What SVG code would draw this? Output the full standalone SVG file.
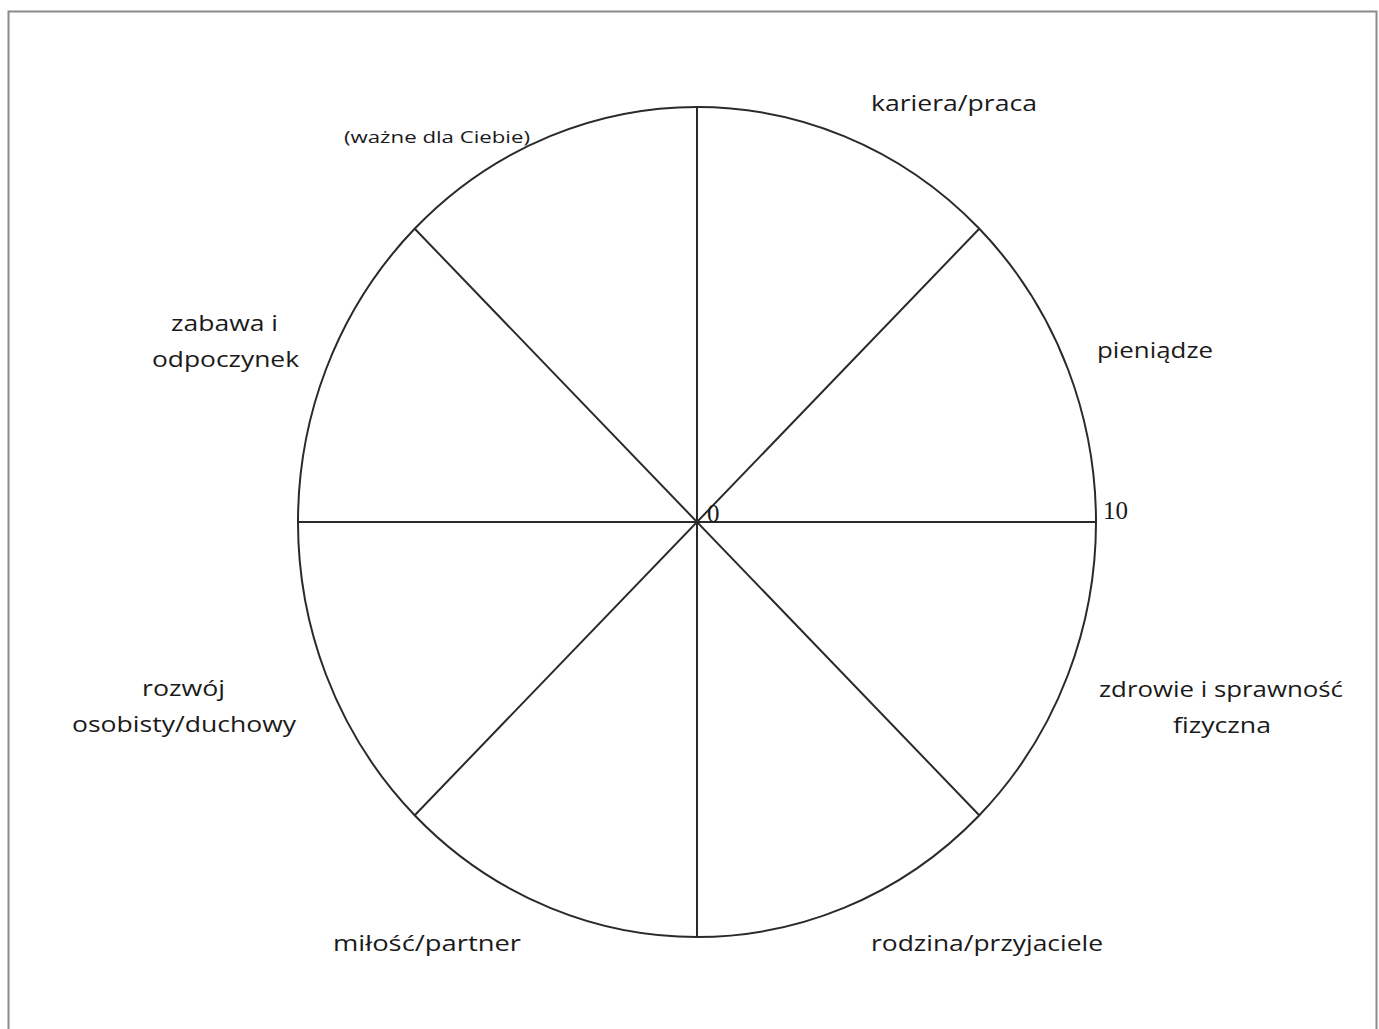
<svg xmlns="http://www.w3.org/2000/svg" width="1379" height="1029" viewBox="0 0 1379 1029">
<style>
.lbl{font-family:"Open Sans","Liberation Sans",sans-serif;font-size:22px;fill:#1a1a1a}
.small{font-family:"Open Sans","Liberation Sans",sans-serif;font-size:16px;fill:#1a1a1a}
.num{font-family:"Liberation Serif",serif;font-size:25px;fill:#1a1a1a}
.ln{stroke:#2a2a2a;stroke-width:2;fill:none}
</style>
<rect x="0" y="0" width="1379" height="1029" fill="#fff"/>
<rect x="8.5" y="11.5" width="1368" height="1030" fill="none" stroke="#8a8a8a" stroke-width="2"/>
<g id="wheel">
<ellipse class="ln" cx="697" cy="522" rx="399" ry="415"/>
</g>
<g id="connectors">
<line class="ln" x1="697" y1="107" x2="697" y2="937"/>
<line class="ln" x1="298" y1="522" x2="1096" y2="522"/>
<line class="ln" x1="415" y1="229" x2="979" y2="815"/>
<line class="ln" x1="979" y1="229" x2="415" y2="815"/>
</g>
<g id="scale">
<text class="num" x="707" y="522">0</text>
<text class="num" x="1103" y="519">10</text>
</g>
<g id="label-kariera"><text class="lbl" x="871" y="111" textLength="166" lengthAdjust="spacingAndGlyphs">kariera/praca</text></g>
<g id="label-wazne"><text class="small" x="344" y="143" textLength="186" lengthAdjust="spacingAndGlyphs">(ważne dla Ciebie)</text></g>
<g id="label-zabawa">
<text class="lbl" x="171" y="331" textLength="107" lengthAdjust="spacingAndGlyphs">zabawa i</text>
<text class="lbl" x="152" y="367" textLength="147" lengthAdjust="spacingAndGlyphs">odpoczynek</text>
</g>
<g id="label-pieniadze"><text class="lbl" x="1097" y="358" textLength="116" lengthAdjust="spacingAndGlyphs">pieniądze</text></g>
<g id="label-rozwoj">
<text class="lbl" x="142" y="696" textLength="83" lengthAdjust="spacingAndGlyphs">rozwój</text>
<text class="lbl" x="72" y="732" textLength="224" lengthAdjust="spacingAndGlyphs">osobisty/duchowy</text>
</g>
<g id="label-zdrowie">
<text class="lbl" x="1099" y="697" textLength="244" lengthAdjust="spacingAndGlyphs">zdrowie i sprawność</text>
<text class="lbl" x="1173" y="733" textLength="98" lengthAdjust="spacingAndGlyphs">fizyczna</text>
</g>
<g id="label-milosc"><text class="lbl" x="333" y="951" textLength="188" lengthAdjust="spacingAndGlyphs">miłość/partner</text></g>
<g id="label-rodzina"><text class="lbl" x="871" y="951" textLength="232" lengthAdjust="spacingAndGlyphs">rodzina/przyjaciele</text></g>
</svg>
